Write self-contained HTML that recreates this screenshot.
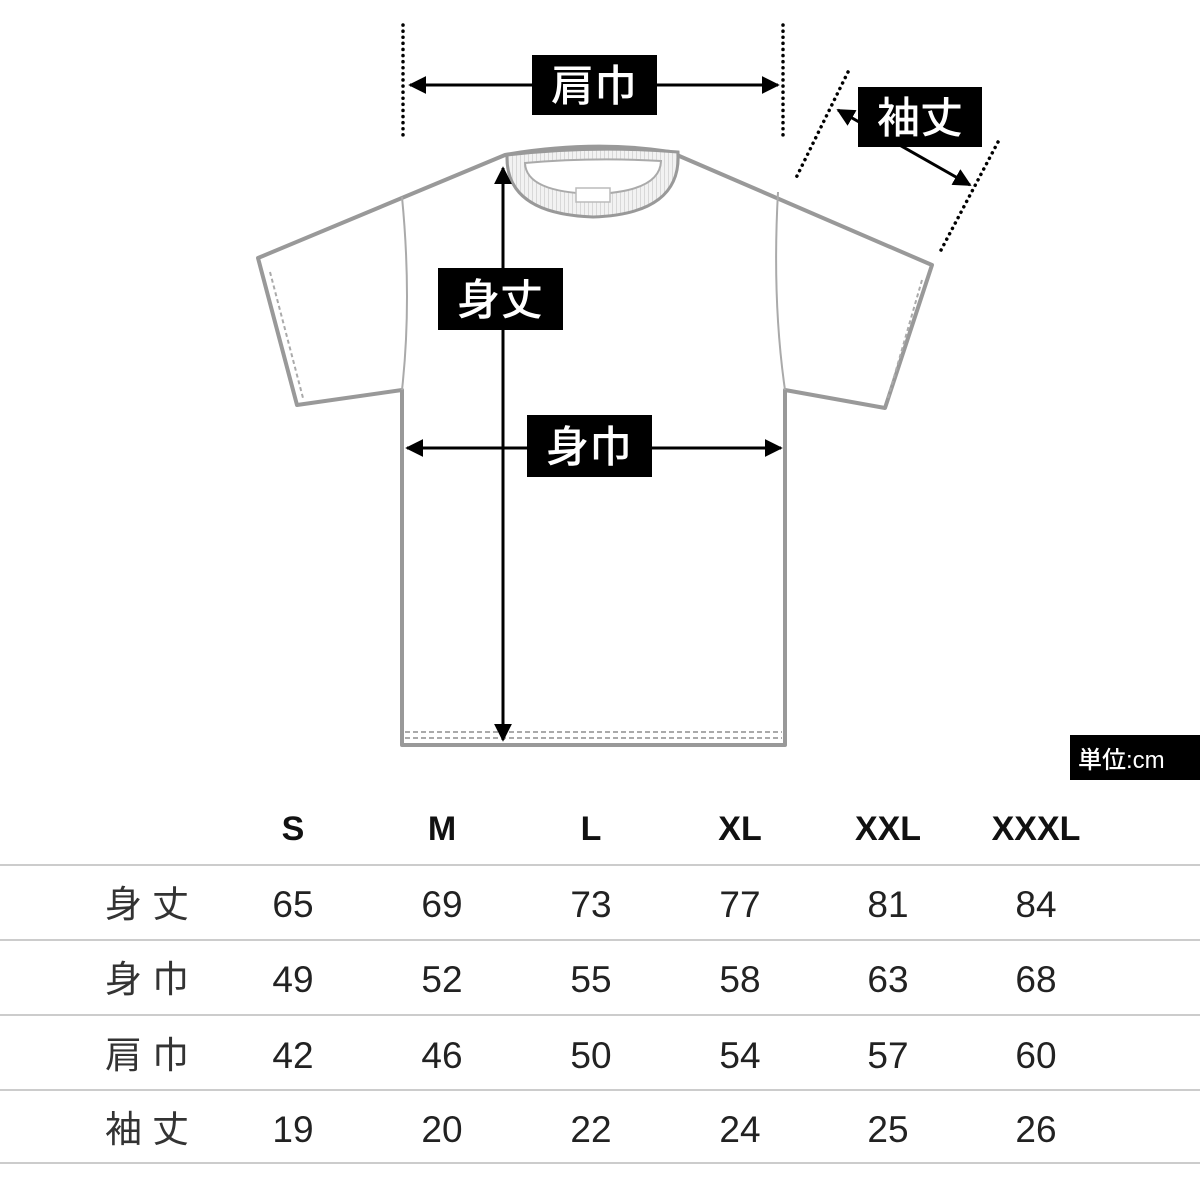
<!DOCTYPE html>
<html><head><meta charset="utf-8"><style>
html,body{margin:0;padding:0;background:#fff;width:1200px;height:1200px;overflow:hidden}
svg{display:block}
.lb{font-family:"Liberation Sans","Noto Sans CJK JP",sans-serif;font-weight:500;fill:#fff}
.h{font-family:"Liberation Sans",sans-serif;font-weight:bold;font-size:34px;fill:#111;text-anchor:middle}
.n{font-family:"Liberation Sans",sans-serif;font-size:37px;fill:#222;text-anchor:middle}
.r{font-family:"Liberation Sans","Noto Sans CJK JP",sans-serif;font-size:37px;fill:#333;letter-spacing:10px}
</style></head><body>
<svg width="1200" height="1200" viewBox="0 0 1200 1200" xmlns="http://www.w3.org/2000/svg">
<defs>
<marker id="a" viewBox="0 0 10 10" refX="9" refY="5" markerWidth="6" markerHeight="6" orient="auto-start-reverse"><path d="M0,0 L10,5 L0,10 z" fill="#000"/></marker>
<pattern id="rib" width="4" height="4" patternUnits="userSpaceOnUse"><rect width="4" height="4" fill="#f2f2f2"/><line x1="0" y1="0" x2="0" y2="4" stroke="#d0d0d0" stroke-width="1.5"/></pattern>
</defs>
<g fill="#fff" stroke="#999" stroke-width="4" stroke-linejoin="round">
<path d="M505,155 L258,258 L297,405 L402,390 L402,745 L785,745 L785,390 L885,408 L932,265 L670,152 Q593,140 505,155 Z"/>
</g>
<g fill="none" stroke="#aaa" stroke-width="2">
<path d="M402,197 Q412,300 402,390"/>
<path d="M778,192 Q772,300 785,390"/>
<path d="M270,272 L303,398" stroke-dasharray="4,3"/>
<path d="M922,280 L888,398" stroke-dasharray="4,3"/>
<path d="M405,732 L782,732" stroke-dasharray="5,3"/>
<path d="M405,738 L782,738" stroke-dasharray="5,3"/>
</g>
<path d="M507,155 Q593,145 678,152 Q682,214 593,217 Q505,214 507,155 Z" fill="url(#rib)" stroke="#999" stroke-width="3"/>
<path d="M525,163 Q593,157 661,161 Q660,192 593,194 Q526,192 525,163 Z" fill="#fff" stroke="#aaa" stroke-width="2"/>
<rect x="576" y="188" width="34" height="14" fill="#fff" stroke="#bbb" stroke-width="1.5"/>
<g stroke="#000" stroke-width="3.5" stroke-dasharray="0.1,6" stroke-linecap="round">
<line x1="403" y1="25" x2="403" y2="138"/><line x1="783" y1="25" x2="783" y2="138"/>
<line x1="848" y1="72" x2="795" y2="180"/><line x1="998" y1="142" x2="940" y2="252"/>
</g>
<g stroke="#000" stroke-width="3" fill="none">
<line x1="410" y1="85" x2="778" y2="85" marker-start="url(#a)" marker-end="url(#a)"/>
<line x1="503" y1="168" x2="503" y2="740" marker-start="url(#a)" marker-end="url(#a)"/>
<line x1="407" y1="448" x2="781" y2="448" marker-start="url(#a)" marker-end="url(#a)"/>
<line x1="838" y1="110" x2="970" y2="185" marker-start="url(#a)" marker-end="url(#a)"/>
</g>
<rect x="532" y="55" width="125" height="60" fill="#000"/>
<text class="lb" x="594" y="101" font-size="43" text-anchor="middle">肩巾</text>
<rect x="858" y="87" width="124" height="60" fill="#000"/>
<text class="lb" x="920" y="133" font-size="43" text-anchor="middle">袖丈</text>
<rect x="438" y="268" width="125" height="62" fill="#000"/>
<text class="lb" x="500" y="315" font-size="43" text-anchor="middle">身丈</text>
<rect x="527" y="415" width="125" height="62" fill="#000"/>
<text class="lb" x="589" y="462" font-size="43" text-anchor="middle">身巾</text>
<rect x="1070" y="735" width="130" height="45" fill="#000"/>
<text class="lb" x="1078" y="768" font-size="24" font-weight="bold">単位:cm</text>
<g stroke="#ccc" stroke-width="2">
<line x1="0" y1="865" x2="1200" y2="865"/><line x1="0" y1="940" x2="1200" y2="940"/>
<line x1="0" y1="1015" x2="1200" y2="1015"/><line x1="0" y1="1090" x2="1200" y2="1090"/>
<line x1="0" y1="1163" x2="1200" y2="1163"/>
</g>
<text x="293" y="840" class="h">S</text><text x="442" y="840" class="h">M</text><text x="591" y="840" class="h">L</text>
<text x="740" y="840" class="h">XL</text><text x="888" y="840" class="h">XXL</text><text x="1036" y="840" class="h">XXXL</text>
<text class="r" x="105" y="917">身丈</text><text class="r" x="105" y="992">身巾</text>
<text class="r" x="105" y="1068">肩巾</text><text class="r" x="105" y="1142">袖丈</text>
<g>
<text class="n" x="293" y="917">65</text><text class="n" x="442" y="917">69</text><text class="n" x="591" y="917">73</text><text class="n" x="740" y="917">77</text><text class="n" x="888" y="917">81</text><text class="n" x="1036" y="917">84</text>
<text class="n" x="293" y="992">49</text><text class="n" x="442" y="992">52</text><text class="n" x="591" y="992">55</text><text class="n" x="740" y="992">58</text><text class="n" x="888" y="992">63</text><text class="n" x="1036" y="992">68</text>
<text class="n" x="293" y="1068">42</text><text class="n" x="442" y="1068">46</text><text class="n" x="591" y="1068">50</text><text class="n" x="740" y="1068">54</text><text class="n" x="888" y="1068">57</text><text class="n" x="1036" y="1068">60</text>
<text class="n" x="293" y="1142">19</text><text class="n" x="442" y="1142">20</text><text class="n" x="591" y="1142">22</text><text class="n" x="740" y="1142">24</text><text class="n" x="888" y="1142">25</text><text class="n" x="1036" y="1142">26</text>
</g>
</svg>
</body></html>
